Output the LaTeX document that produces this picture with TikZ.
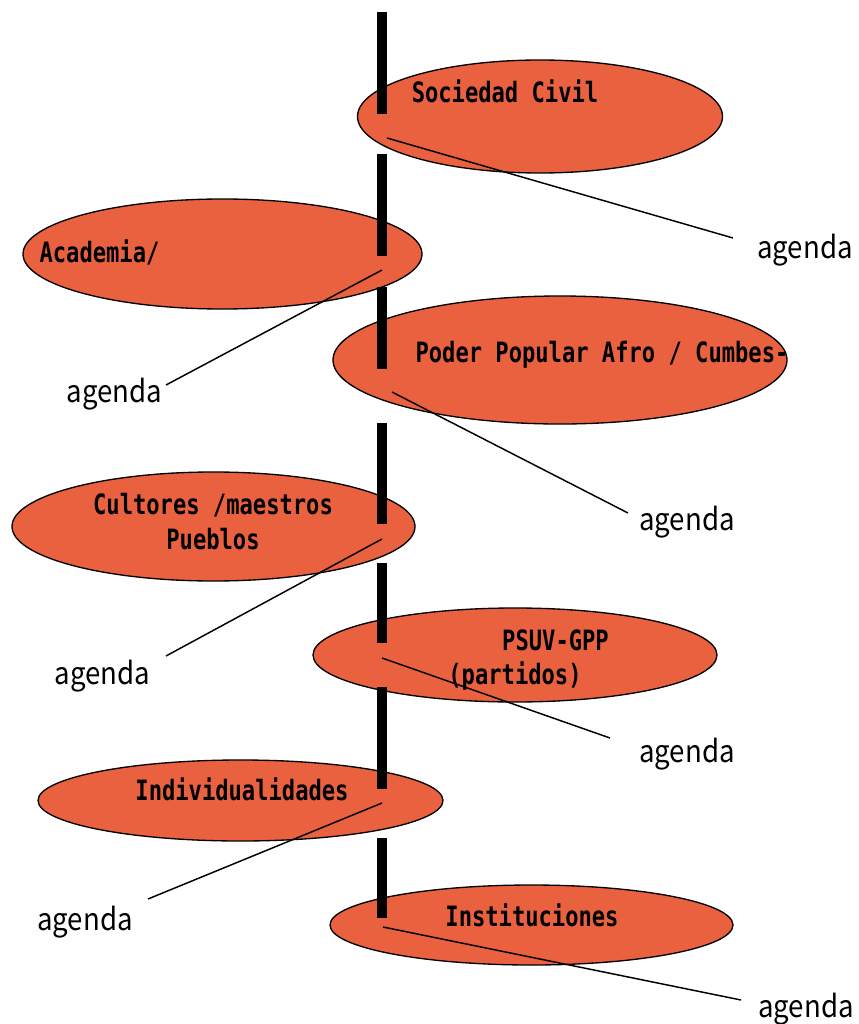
\documentclass[tikz,border=0pt]{standalone}
\usepackage{fontspec}
\usetikzlibrary{shapes.geometric}
\newfontfamily\gothic{DejaVu Sans Mono}[FakeStretch=0.79]
\newfontfamily\agfont{Noto Sans CJK JP}[FakeStretch=0.9]
\definecolor{blobfill}{RGB}{234,97,64}
\tikzset{
  blob/.style={ellipse, draw=black, line width=1pt, fill=blobfill, inner sep=0pt},
  lbl/.style={anchor=base, inner sep=0pt, font=\gothic\bfseries\fontsize{21}{25}\selectfont},
  ag/.style={anchor=base, inner sep=0pt, font=\agfont\fontsize{23}{27}\selectfont},
  bar/.style={line width=7.5pt, black},
  link/.style={line width=1.1pt, black}
}
\begin{document}
\begin{tikzpicture}[x=0.75pt, y=-0.75pt]
  \useasboundingbox (0,0) rectangle (858,1024);
  % groups
  \node[blob, minimum width=273.75pt, minimum height=84.75pt] (soc) at (540,116.5) {};
  \node[blob, minimum width=299.25pt, minimum height=82.5pt] (acad) at (222.5,254) {};
  \node[blob, minimum width=340.5pt, minimum height=96pt] (poder) at (560,360) {};
  \node[blob, minimum width=302.25pt, minimum height=81.75pt] (cult) at (213.5,526.5) {};
  \node[blob, minimum width=303pt, minimum height=70.5pt] (psuv) at (515,655) {};
  \node[blob, minimum width=303.75pt, minimum height=60.75pt] (indiv) at (240.5,800.5) {};
  \node[blob, minimum width=302.25pt, minimum height=60pt] (inst) at (531.5,925) {};
  % group names
  \node[lbl] (socT) at (505,103) {Sociedad Civil};
  \node[lbl] (acadT) at (99.5,262) {Academia/};
  \node[lbl] (poderT) at (602,362) {Poder Popular Afro / Cumbes-};
  \node[lbl] (cultT) at (213,514) {Cultores /maestros};
  \node[lbl] (cultT2) at (213,549) {Pueblos};
  \node[lbl] (psuvT) at (555.5,650) {PSUV-GPP};
  \node[lbl] (psuvT2) at (515,684) {(partidos)};
  \node[lbl] (indivT) at (242,800) {Individualidades};
  \node[lbl] (instT) at (532,926) {Instituciones};
  % vertical spine segments
  \draw[bar] (382,12) -- (382,114);
  \draw[bar] (382,154) -- (382,256);
  \draw[bar] (382,287) -- (382,369);
  \draw[bar] (382,423) -- (382,524);
  \draw[bar] (382,563) -- (382,643);
  \draw[bar] (382,687) -- (382,789);
  \draw[bar] (382,838) -- (382,918);
  % agenda labels
  \node[ag] (ag1) at (805,258) {agenda};
  \node[ag] (ag2) at (114.5,402) {agenda};
  \node[ag] (ag3) at (687,530) {agenda};
  \node[ag] (ag4) at (102.5,684) {agenda};
  \node[ag] (ag5) at (687,762) {agenda};
  \node[ag] (ag6) at (85,930) {agenda};
  \node[ag] (ag7) at (806,1017) {agenda};
  % leader line ends
  \coordinate (s1) at (387,138);  \coordinate (e1) at (733,238);
  \coordinate (s2) at (382,270);  \coordinate (e2) at (166,385);
  \coordinate (s3) at (392,392);  \coordinate (e3) at (628,513);
  \coordinate (s4) at (382,539);  \coordinate (e4) at (166,656);
  \coordinate (s5) at (382,658);  \coordinate (e5) at (610,738);
  \coordinate (s6) at (382,803);  \coordinate (e6) at (148,899);
  \coordinate (s7) at (383,927);  \coordinate (e7) at (741,1000);
  \draw[link] (s1) -- (e1);
  \draw[link] (s2) -- (e2);
  \draw[link] (s3) -- (e3);
  \draw[link] (s4) -- (e4);
  \draw[link] (s5) -- (e5);
  \draw[link] (s6) -- (e6);
  \draw[link] (s7) -- (e7);
\end{tikzpicture}
\end{document}
